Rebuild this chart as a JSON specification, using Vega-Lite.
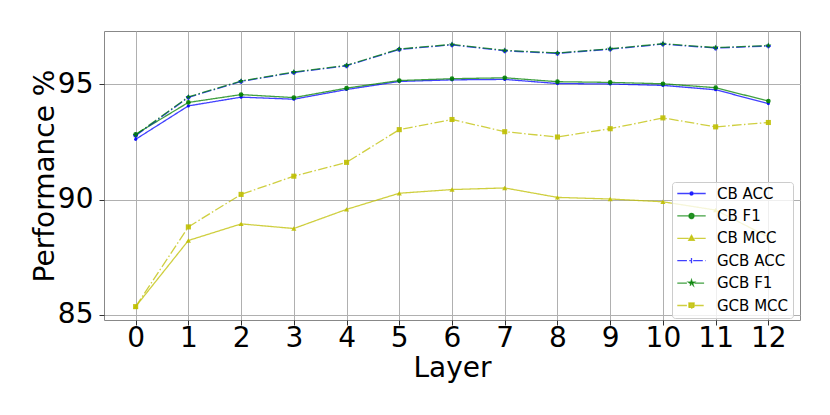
{
  "$schema": "https://vega.github.io/schema/vega-lite/v6.json",
  "width": 696,
  "height": 289,
  "autosize": {"type": "none"},
  "padding": {"left": 104, "top": 31, "right": 30, "bottom": 95},
  "background": "white",
  "config": {
    "font": "DejaVu Sans",
    "view": {"stroke": "#888888", "strokeWidth": 1},
    "axis": {
      "labelFont": "DejaVu Sans",
      "titleFont": "DejaVu Sans",
      "labelFontSize": 28,
      "titleFontSize": 28,
      "titleFontWeight": "normal",
      "labelColor": "black",
      "titleColor": "black",
      "tickColor": "black",
      "tickSize": 5,
      "tickWidth": 0.8,
      "domain": false,
      "grid": true,
      "gridColor": "#b0b0b0",
      "gridWidth": 1
    }
  },
  "data": {
    "values": [
      {"layer": 0, "series": "CB ACC", "value": 92.62},
      {"layer": 1, "series": "CB ACC", "value": 94.07},
      {"layer": 2, "series": "CB ACC", "value": 94.45},
      {"layer": 3, "series": "CB ACC", "value": 94.36},
      {"layer": 4, "series": "CB ACC", "value": 94.78},
      {"layer": 5, "series": "CB ACC", "value": 95.13},
      {"layer": 6, "series": "CB ACC", "value": 95.20},
      {"layer": 7, "series": "CB ACC", "value": 95.22},
      {"layer": 8, "series": "CB ACC", "value": 95.04},
      {"layer": 9, "series": "CB ACC", "value": 95.02},
      {"layer": 10, "series": "CB ACC", "value": 94.96},
      {"layer": 11, "series": "CB ACC", "value": 94.77},
      {"layer": 12, "series": "CB ACC", "value": 94.17},
      {"layer": 0, "series": "CB F1", "value": 92.84},
      {"layer": 1, "series": "CB F1", "value": 94.22},
      {"layer": 2, "series": "CB F1", "value": 94.56},
      {"layer": 3, "series": "CB F1", "value": 94.43},
      {"layer": 4, "series": "CB F1", "value": 94.84},
      {"layer": 5, "series": "CB F1", "value": 95.17},
      {"layer": 6, "series": "CB F1", "value": 95.25},
      {"layer": 7, "series": "CB F1", "value": 95.29},
      {"layer": 8, "series": "CB F1", "value": 95.12},
      {"layer": 9, "series": "CB F1", "value": 95.09},
      {"layer": 10, "series": "CB F1", "value": 95.03},
      {"layer": 11, "series": "CB F1", "value": 94.86},
      {"layer": 12, "series": "CB F1", "value": 94.28},
      {"layer": 0, "series": "CB MCC", "value": 85.36},
      {"layer": 1, "series": "CB MCC", "value": 88.23},
      {"layer": 2, "series": "CB MCC", "value": 88.95},
      {"layer": 3, "series": "CB MCC", "value": 88.75},
      {"layer": 4, "series": "CB MCC", "value": 89.58},
      {"layer": 5, "series": "CB MCC", "value": 90.28},
      {"layer": 6, "series": "CB MCC", "value": 90.44},
      {"layer": 7, "series": "CB MCC", "value": 90.51},
      {"layer": 8, "series": "CB MCC", "value": 90.10},
      {"layer": 9, "series": "CB MCC", "value": 90.03},
      {"layer": 10, "series": "CB MCC", "value": 89.91},
      {"layer": 11, "series": "CB MCC", "value": 89.55},
      {"layer": 12, "series": "CB MCC", "value": 88.38},
      {"layer": 0, "series": "GCB ACC", "value": 92.78},
      {"layer": 1, "series": "GCB ACC", "value": 94.44},
      {"layer": 2, "series": "GCB ACC", "value": 95.13},
      {"layer": 3, "series": "GCB ACC", "value": 95.52},
      {"layer": 4, "series": "GCB ACC", "value": 95.81},
      {"layer": 5, "series": "GCB ACC", "value": 96.52},
      {"layer": 6, "series": "GCB ACC", "value": 96.72},
      {"layer": 7, "series": "GCB ACC", "value": 96.46},
      {"layer": 8, "series": "GCB ACC", "value": 96.35},
      {"layer": 9, "series": "GCB ACC", "value": 96.53},
      {"layer": 10, "series": "GCB ACC", "value": 96.75},
      {"layer": 11, "series": "GCB ACC", "value": 96.58},
      {"layer": 12, "series": "GCB ACC", "value": 96.67},
      {"layer": 0, "series": "GCB F1", "value": 92.81},
      {"layer": 1, "series": "GCB F1", "value": 94.46},
      {"layer": 2, "series": "GCB F1", "value": 95.15},
      {"layer": 3, "series": "GCB F1", "value": 95.54},
      {"layer": 4, "series": "GCB F1", "value": 95.83},
      {"layer": 5, "series": "GCB F1", "value": 96.54},
      {"layer": 6, "series": "GCB F1", "value": 96.74},
      {"layer": 7, "series": "GCB F1", "value": 96.48},
      {"layer": 8, "series": "GCB F1", "value": 96.37},
      {"layer": 9, "series": "GCB F1", "value": 96.55},
      {"layer": 10, "series": "GCB F1", "value": 96.77},
      {"layer": 11, "series": "GCB F1", "value": 96.60},
      {"layer": 12, "series": "GCB F1", "value": 96.69},
      {"layer": 0, "series": "GCB MCC", "value": 85.36},
      {"layer": 1, "series": "GCB MCC", "value": 88.82},
      {"layer": 2, "series": "GCB MCC", "value": 90.23},
      {"layer": 3, "series": "GCB MCC", "value": 91.02},
      {"layer": 4, "series": "GCB MCC", "value": 91.62},
      {"layer": 5, "series": "GCB MCC", "value": 93.04},
      {"layer": 6, "series": "GCB MCC", "value": 93.48},
      {"layer": 7, "series": "GCB MCC", "value": 92.95},
      {"layer": 8, "series": "GCB MCC", "value": 92.72},
      {"layer": 9, "series": "GCB MCC", "value": 93.08},
      {"layer": 10, "series": "GCB MCC", "value": 93.55},
      {"layer": 11, "series": "GCB MCC", "value": 93.16},
      {"layer": 12, "series": "GCB MCC", "value": 93.35}
    ]
  },
  "encoding": {
    "x": {
      "field": "layer",
      "type": "quantitative",
      "scale": {"domain": [-0.6, 12.6], "nice": false, "zero": false},
      "axis": {
        "values": [0, 1, 2, 3, 4, 5, 6, 7, 8, 9, 10, 11, 12],
        "format": "d",
        "title": "Layer",
        "labelPadding": -1,
        "titlePadding": 2
      }
    },
    "y": {
      "field": "value",
      "type": "quantitative",
      "scale": {"domain": [84.78, 97.32], "nice": false, "zero": false},
      "axis": {
        "values": [85, 90, 95],
        "format": "d",
        "title": "Performance %",
        "labelPadding": 6,
        "titlePadding": -2
      }
    },
    "color": {
      "field": "series",
      "type": "nominal",
      "scale": {
        "domain": ["CB ACC", "CB F1", "CB MCC", "GCB ACC", "GCB F1", "GCB MCC"],
        "range": ["#0000ff", "#008000", "#bfbf00", "#0000ff", "#008000", "#bfbf00"]
      },
      "legend": null
    }
  },
  "layer": [
    {
      "mark": {"type": "line", "strokeWidth": 1.3, "strokeOpacity": 0.75},
      "encoding": {
        "color": {
          "field": "series",
          "type": "nominal",
          "legend": {
            "title": null,
            "orient": "none",
            "legendX": 568,
            "legendY": 151,
            "padding": 4,
            "fillColor": "rgba(255,255,255,0.8)",
            "strokeColor": "#cccccc",
            "cornerRadius": 3,
            "labelFont": "DejaVu Sans",
            "labelFontSize": 15,
            "labelColor": "black",
            "symbolSize": 16,
            "symbolOffset": 8,
            "labelOffset": 18,
            "rowPadding": 6.4,
            "symbolStrokeWidth": 1.3,
            "encode": {
              "symbols": {
                "update": {
                  "shape": {"signal": "datum.value === 'CB ACC' ? 'M-7.1,0H-0.8M0.8,0H7.1M-0.8,0a0.8,0.8 0 1,0 1.6,0a0.8,0.8 0 1,0 -1.6,0' : datum.value === 'CB F1' ? 'M-7.1,0H-1.3M1.3,0H7.1M-1.3,0a1.3,1.3 0 1,0 2.6,0a1.3,1.3 0 1,0 -2.6,0' : datum.value === 'CB MCC' ? 'M-7.1,0H-1.4M1.4,0H7.1M0,-1.5L1.4,1L-1.4,1Z' : datum.value === 'GCB ACC' ? 'M-7.1,0H7.1M0,-1.3V1.3' : datum.value === 'GCB F1' ? 'M-7.1,0H-1.5M1.5,0H7.1M0,-1.6L0.36,-0.49L1.52,-0.49L0.58,0.19L0.94,1.29L0,0.61L-0.94,1.29L-0.58,0.19L-1.52,-0.49L-0.36,-0.49Z' : 'M-7.1,0H-1.3M1.3,0H7.1M-1.3,-1.3H1.3V1.3H-1.3Z'"},
                  "fill": {"scale": "color", "field": "value"},
                  "stroke": {"scale": "color", "field": "value"},
                  "fillOpacity": {"value": 0.85},
                  "strokeOpacity": {"value": 0.75},
                  "strokeDash": {"signal": "indexof(datum.value, 'GCB') === 0 ? [9.6, 2.4, 1.5, 2.4] : []"}
                }
              }
            }
          }
        },
        "strokeDash": {
          "field": "series",
          "type": "nominal",
          "scale": {
            "domain": ["CB ACC", "CB F1", "CB MCC", "GCB ACC", "GCB F1", "GCB MCC"],
            "range": [[1, 0], [1, 0], [1, 0], [9.6, 2.4, 1.5, 2.4], [9.6, 2.4, 1.5, 2.4], [9.6, 2.4, 1.5, 2.4]]
          },
          "legend": null
        }
      }
    },
    {
      "transform": [{"filter": "datum.series === 'CB ACC'"}],
      "mark": {"type": "point", "filled": true, "opacity": 0.9, "shape": "circle", "size": 10}
    },
    {
      "transform": [{"filter": "datum.series === 'CB F1'"}],
      "mark": {"type": "point", "filled": true, "opacity": 0.9, "shape": "circle", "size": 22}
    },
    {
      "transform": [{"filter": "datum.series === 'CB MCC'"}],
      "mark": {"type": "point", "filled": true, "opacity": 0.9, "shape": "triangle-up", "size": 26}
    },
    {
      "transform": [{"filter": "datum.series === 'GCB ACC'"}],
      "mark": {"type": "point", "filled": true, "opacity": 0.9, "shape": "cross", "size": 22}
    },
    {
      "transform": [{"filter": "datum.series === 'GCB F1'"}],
      "mark": {"type": "point", "filled": true, "opacity": 0.9, "shape": "M0,-1L0.2245,-0.309L0.951,-0.309L0.363,0.118L0.588,0.809L0,0.382L-0.588,0.809L-0.363,0.118L-0.951,-0.309L-0.2245,-0.309Z", "size": 40}
    },
    {
      "transform": [{"filter": "datum.series === 'GCB MCC'"}],
      "mark": {"type": "point", "filled": true, "opacity": 0.9, "shape": "square", "size": 26}
    }
  ]
}
